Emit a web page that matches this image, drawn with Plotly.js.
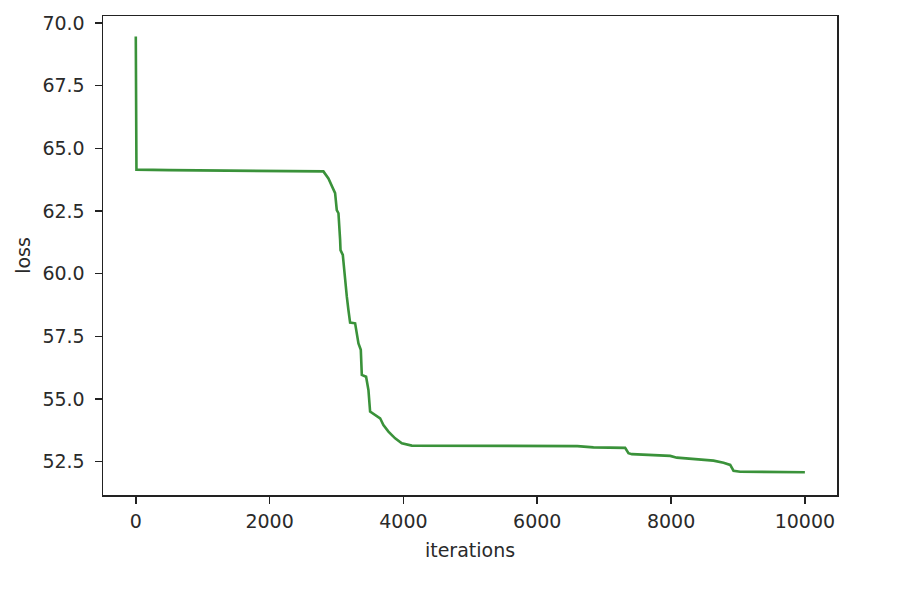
<!DOCTYPE html>
<html>
<head>
<meta charset="utf-8">
<script src="https://cdn.plot.ly/plotly-3.0.1.min.js"></script>
<style>html,body{margin:0;padding:0;background:#fff;}#chart{width:910px;height:596px;}</style>
</head>
<body>
<div id="chart"></div>
<script>
const iterations = [0, 10, 500, 1500, 2500, 2780, 2804, 2879, 2930, 2979, 3004, 3029, 3054, 3060, 3094, 3129, 3154, 3178, 3203, 3278, 3328, 3363, 3378, 3442, 3477, 3502, 3577, 3652, 3701, 3776, 3876, 3976, 4125, 5000, 6000, 6600, 6840, 7314, 7363, 7414, 7987, 8087, 8634, 8784, 8884, 8933, 9033, 10000];
const loss = [69.46, 64.15, 64.13, 64.12, 64.11, 64.10, 64.08, 63.80, 63.47, 63.21, 62.54, 62.41, 61.34, 60.94, 60.75, 59.62, 59.08, 58.55, 58.05, 58.02, 57.22, 56.96, 55.96, 55.89, 55.36, 54.50, 54.36, 54.23, 53.96, 53.70, 53.43, 53.23, 53.14, 53.13, 53.13, 53.12, 53.07, 53.05, 52.84, 52.80, 52.73, 52.66, 52.54, 52.46, 52.37, 52.14, 52.10, 52.08];
const xTicks = [0, 2000, 4000, 6000, 8000, 10000];
const yTicks = [52.5, 55.0, 57.5, 60.0, 62.5, 65.0, 67.5, 70.0];

const font = {family: 'DejaVu Sans, sans-serif', size: 19, color: '#2a2a2a'};
Plotly.newPlot('chart', [{
  x: iterations, y: loss, type: 'scatter', mode: 'lines',
  line: {color: '#3a923a', width: 2.6}
}], {
  width: 910, height: 596,
  margin: {l: 103, r: 73, t: 16, b: 101, pad: 0},
  paper_bgcolor: '#fff', plot_bgcolor: '#fff',
  font: font,
  showlegend: false,
  xaxis: {
    range: [-490, 10480], tickvals: xTicks, ticktext: xTicks.map(String),
    ticks: 'outside', ticklen: 7, tickwidth: 1.5, tickcolor: '#222',
    showline: true, mirror: true, linecolor: '#222', linewidth: 1.5,
    showgrid: false, zeroline: false, tickfont: font, ticklabelstandoff: 2,
    title: {text: 'iterations', font: font, standoff: 12}
  },
  yaxis: {
    range: [51.17, 70.28], tickvals: yTicks, ticktext: yTicks.map(v => v.toFixed(1)),
    ticks: 'outside', ticklen: 7, tickwidth: 1.5, tickcolor: '#222',
    showline: true, mirror: true, linecolor: '#222', linewidth: 1.5,
    showgrid: false, zeroline: false, tickfont: font, ticklabelstandoff: 6,
    title: {text: 'loss', font: font, standoff: 6}
  }
}, {displayModeBar: false, staticPlot: true});
</script>
</body>
</html>
